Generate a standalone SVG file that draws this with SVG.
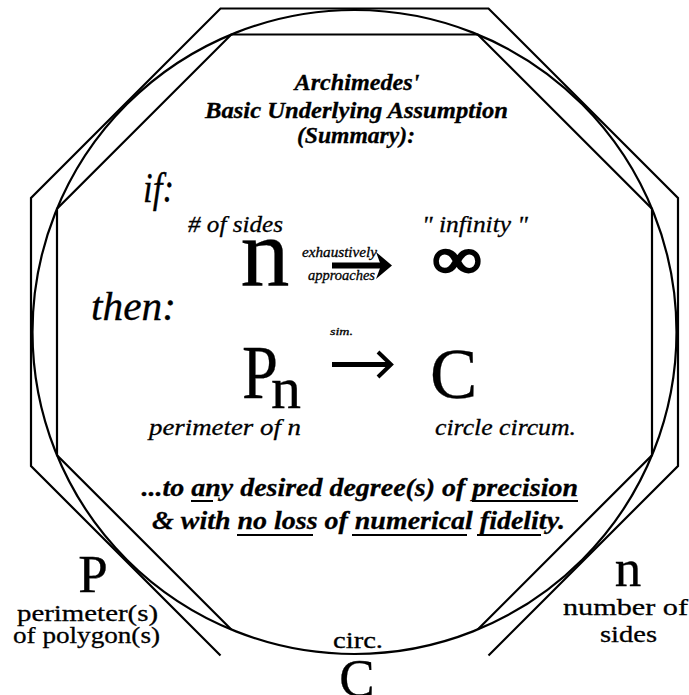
<svg xmlns="http://www.w3.org/2000/svg" width="689" height="695" viewBox="0 0 689 695">
<style>
.ln{fill:none;stroke:#000;stroke-width:2.2;stroke-linejoin:miter}
.t{font-family:"Liberation Serif","Times New Roman",serif;fill:#000;stroke:#000;stroke-width:0.3}
.it{font-style:italic}
.bi{font-style:italic;font-weight:bold}
.ul{stroke:#000;stroke-width:2}
</style>
<rect width="689" height="695" fill="#fff"/>
<g id="shapes">
<polyline id="outer-octagon" class="ln" points="220.5,655.5 31,466 31,198 220.5,8.5 488.5,8.5 678,198 678,466 488.5,655.5"/>
<circle id="circle" class="ln" cx="354.5" cy="332" r="322"/>
<polyline id="inner-octagon" class="ln" points="231.3,629.5 57,455.2 57,208.8 231.3,34.5 477.7,34.5 652,208.8 652,455.2 477.7,629.5"/>
</g>
<g id="title" class="t bi" font-size="23" text-anchor="middle">
<text x="357" y="90" textLength="125" lengthAdjust="spacingAndGlyphs">Archimedes'</text>
<text x="356.5" y="118" textLength="303" lengthAdjust="spacingAndGlyphs">Basic Underlying Assumption</text>
<text x="356" y="143" textLength="118" lengthAdjust="spacingAndGlyphs">(Summary):</text>
</g>
<g id="if" class="t it"><text x="143" y="202" font-size="42" textLength="31" lengthAdjust="spacingAndGlyphs">if:</text></g>
<g id="then" class="t it"><text x="91" y="320" font-size="40" textLength="85" lengthAdjust="spacingAndGlyphs">then:</text></g>
<g id="node-n" class="t">
<text class="it" x="188" y="232" font-size="24" textLength="95" lengthAdjust="spacingAndGlyphs"># of sides</text>
<text x="240.5" y="285" font-size="98">n</text>
</g>
<g id="node-infinity" class="t">
<text class="it" x="422" y="232" font-size="24" textLength="106" lengthAdjust="spacingAndGlyphs">" infinity "</text>
<text x="457" y="278" font-size="58" font-weight="bold" text-anchor="middle" textLength="48" lengthAdjust="spacingAndGlyphs" stroke-width="2.6">∞</text>
</g>
<g id="node-Pn" class="t">
<text x="242" y="398" font-size="76" textLength="36" lengthAdjust="spacingAndGlyphs">P</text>
<text x="271" y="408" font-size="60">n</text>
<text class="it" x="149" y="435" font-size="24" textLength="152" lengthAdjust="spacingAndGlyphs">perimeter of n</text>
</g>
<g id="node-C" class="t">
<text x="430" y="398" font-size="71">C</text>
<text class="it" x="435" y="435" font-size="24" textLength="141" lengthAdjust="spacingAndGlyphs">circle circum.</text>
</g>
<g id="connectors">
<g id="arrow-approaches">
<line x1="332" y1="265.5" x2="385" y2="265.5" stroke="#000" stroke-width="6"/>
<path d="M376,252 L392,265.5 L376,279 L381,265.5 Z" fill="#000"/>
<text class="t it" x="302" y="257" font-size="14" textLength="75" lengthAdjust="spacingAndGlyphs">exhaustively</text>
<text class="t it" x="308" y="280" font-size="14" textLength="67" lengthAdjust="spacingAndGlyphs">approaches</text>
</g>
<g id="arrow-sim">
<line x1="332" y1="364.5" x2="389" y2="364.5" stroke="#000" stroke-width="5"/>
<polyline points="378,352 391,364.5 378,377" fill="none" stroke="#000" stroke-width="4"/>
<text class="t it" x="330" y="335" font-size="11" textLength="23" lengthAdjust="spacingAndGlyphs">sim.</text>
</g>
</g>
<g id="statement">
<text class="t bi" x="141.5" y="496" font-size="26" textLength="436.5" lengthAdjust="spacingAndGlyphs">...to any desired degree(s) of precision</text>
<text class="t bi" x="152" y="529" font-size="26" textLength="413" lengthAdjust="spacingAndGlyphs">&amp; with no loss of numerical fidelity.</text>
<line class="ul" x1="191" y1="501" x2="213" y2="501"/>
<line class="ul" x1="472" y1="501" x2="578" y2="501"/>
<line class="ul" x1="237" y1="535" x2="313" y2="535"/>
<line class="ul" x1="352" y1="535" x2="467" y2="535"/>
<line class="ul" x1="477" y1="535" x2="541" y2="535"/>
</g>
<g id="label-P" class="t" text-anchor="middle">
<text x="93" y="592" font-size="53">P</text>
<text x="87.5" y="621" font-size="24" textLength="141" lengthAdjust="spacingAndGlyphs">perimeter(s)</text>
<text x="86.5" y="643" font-size="24" textLength="147" lengthAdjust="spacingAndGlyphs">of polygon(s)</text>
</g>
<g id="label-n" class="t" text-anchor="middle">
<text x="628" y="586" font-size="53">n</text>
<text x="625.5" y="615" font-size="24" textLength="125" lengthAdjust="spacingAndGlyphs">number of</text>
<text x="628.5" y="642" font-size="24" textLength="57" lengthAdjust="spacingAndGlyphs">sides</text>
</g>
<g id="label-C" class="t" text-anchor="middle">
<text x="358" y="648" font-size="24" textLength="50" lengthAdjust="spacingAndGlyphs">circ.</text>
<text x="357" y="696" font-size="53">C</text>
</g>
</svg>
